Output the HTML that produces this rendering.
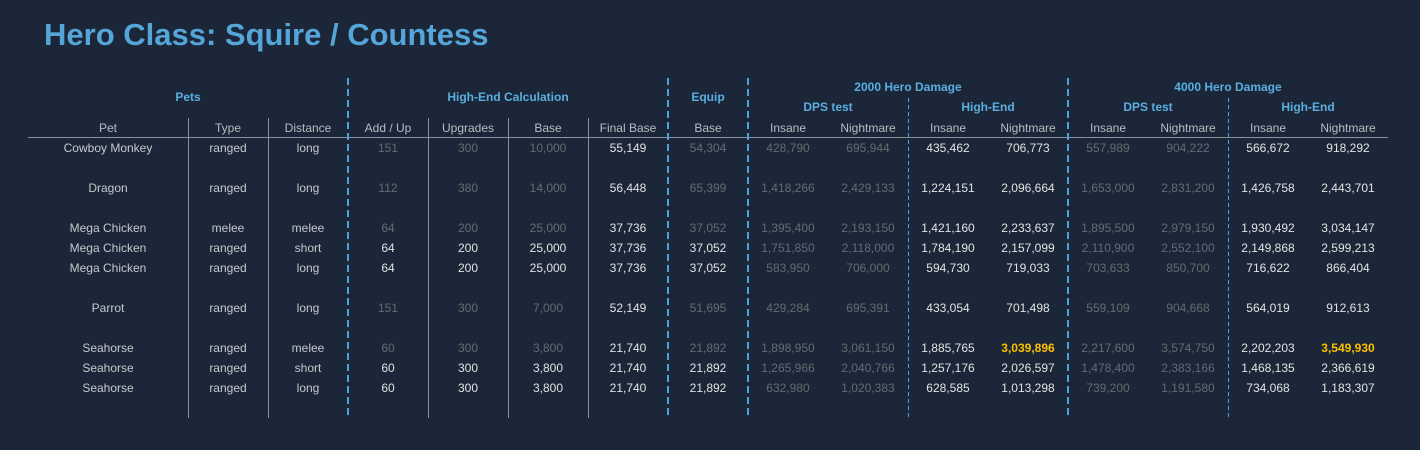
<!DOCTYPE html>
<html><head><meta charset="utf-8"><style>
*{margin:0;padding:0;box-sizing:border-box}
body{width:1420px;height:450px;background:#1b2738;position:relative;overflow:hidden;font-family:"Liberation Sans",sans-serif;font-size:12px;color:#c6c8cc}
.t{position:absolute;left:44px;top:17px;font-size:31px;font-weight:bold;color:#55a5d8;white-space:nowrap}
.r{position:absolute;left:28px;display:flex;height:20px;line-height:21px;white-space:nowrap}
.r div{text-align:center;flex:none;width:80px}
.r div:first-child{width:160px}
.h{color:#5aaee0;font-weight:bold;position:absolute;text-align:center;white-space:nowrap;height:20px;line-height:21px}
.ch{color:#b8bcc2}
.d{color:#666a70}
.b{color:#e2e2e2}
.g{color:#ffc000;font-weight:bold}
.vs{position:absolute;width:1px;background:#8a929c;top:118px;height:300px}
.vd{position:absolute;width:2px;top:78px;height:340px;background:repeating-linear-gradient(#4ba3dc 0 7px,transparent 7px 11px)}
.vt{position:absolute;width:1px;top:98px;height:320px;background:repeating-linear-gradient(#4ba3dc 0 4px,transparent 4px 7px)}
</style></head><body>
<div class="t">Hero Class: Squire / Countess</div>

<div class="h" style="left:28px;width:320px;top:87px">Pets</div>
<div class="h" style="left:348px;width:320px;top:87px">High-End Calculation</div>
<div class="h" style="left:668px;width:80px;top:87px">Equip</div>
<div class="h" style="left:748px;width:320px;top:77px">2000 Hero Damage</div>
<div class="h" style="left:1068px;width:320px;top:77px">4000 Hero Damage</div>
<div class="h" style="left:748px;width:160px;top:97px">DPS test</div>
<div class="h" style="left:908px;width:160px;top:97px">High-End</div>
<div class="h" style="left:1068px;width:160px;top:97px">DPS test</div>
<div class="h" style="left:1228px;width:160px;top:97px">High-End</div>

<div class="r ch" style="top:118px"><div>Pet</div><div>Type</div><div>Distance</div><div>Add / Up</div><div>Upgrades</div><div>Base</div><div>Final Base</div><div>Base</div><div>Insane</div><div>Nightmare</div><div>Insane</div><div>Nightmare</div><div>Insane</div><div>Nightmare</div><div>Insane</div><div>Nightmare</div></div>
<div style="position:absolute;left:28px;top:137px;width:1360px;height:1px;background:#8a929c"></div>

<div class="vs" style="left:188px"></div><div class="vs" style="left:268px"></div>
<div class="vs" style="left:428px"></div><div class="vs" style="left:508px"></div><div class="vs" style="left:588px"></div>
<div class="vd" style="left:347px"></div><div class="vd" style="left:667px"></div><div class="vd" style="left:747px"></div><div class="vd" style="left:1067px"></div>
<div class="vt" style="left:908px"></div><div class="vt" style="left:1228px"></div>

<div class="r" style="top:138px"><div>Cowboy Monkey</div><div>ranged</div><div>long</div><div class="d">151</div><div class="d">300</div><div class="d">10,000</div><div class="b">55,149</div><div class="d">54,304</div><div class="d">428,790</div><div class="d">695,944</div><div class="b">435,462</div><div class="b">706,773</div><div class="d">557,989</div><div class="d">904,222</div><div class="b">566,672</div><div class="b">918,292</div></div>
<div class="r" style="top:178px"><div>Dragon</div><div>ranged</div><div>long</div><div class="d">112</div><div class="d">380</div><div class="d">14,000</div><div class="b">56,448</div><div class="d">65,399</div><div class="d">1,418,266</div><div class="d">2,429,133</div><div class="b">1,224,151</div><div class="b">2,096,664</div><div class="d">1,653,000</div><div class="d">2,831,200</div><div class="b">1,426,758</div><div class="b">2,443,701</div></div>
<div class="r" style="top:218px"><div>Mega Chicken</div><div>melee</div><div>melee</div><div class="d">64</div><div class="d">200</div><div class="d">25,000</div><div class="b">37,736</div><div class="d">37,052</div><div class="d">1,395,400</div><div class="d">2,193,150</div><div class="b">1,421,160</div><div class="b">2,233,637</div><div class="d">1,895,500</div><div class="d">2,979,150</div><div class="b">1,930,492</div><div class="b">3,034,147</div></div>
<div class="r" style="top:238px"><div>Mega Chicken</div><div>ranged</div><div>short</div><div class="b">64</div><div class="b">200</div><div class="b">25,000</div><div class="b">37,736</div><div class="b">37,052</div><div class="d">1,751,850</div><div class="d">2,118,000</div><div class="b">1,784,190</div><div class="b">2,157,099</div><div class="d">2,110,900</div><div class="d">2,552,100</div><div class="b">2,149,868</div><div class="b">2,599,213</div></div>
<div class="r" style="top:258px"><div>Mega Chicken</div><div>ranged</div><div>long</div><div class="b">64</div><div class="b">200</div><div class="b">25,000</div><div class="b">37,736</div><div class="b">37,052</div><div class="d">583,950</div><div class="d">706,000</div><div class="b">594,730</div><div class="b">719,033</div><div class="d">703,633</div><div class="d">850,700</div><div class="b">716,622</div><div class="b">866,404</div></div>
<div class="r" style="top:298px"><div>Parrot</div><div>ranged</div><div>long</div><div class="d">151</div><div class="d">300</div><div class="d">7,000</div><div class="b">52,149</div><div class="d">51,695</div><div class="d">429,284</div><div class="d">695,391</div><div class="b">433,054</div><div class="b">701,498</div><div class="d">559,109</div><div class="d">904,668</div><div class="b">564,019</div><div class="b">912,613</div></div>
<div class="r" style="top:338px"><div>Seahorse</div><div>ranged</div><div>melee</div><div class="d">60</div><div class="d">300</div><div class="d">3,800</div><div class="b">21,740</div><div class="d">21,892</div><div class="d">1,898,950</div><div class="d">3,061,150</div><div class="b">1,885,765</div><div class="g">3,039,896</div><div class="d">2,217,600</div><div class="d">3,574,750</div><div class="b">2,202,203</div><div class="g">3,549,930</div></div>
<div class="r" style="top:358px"><div>Seahorse</div><div>ranged</div><div>short</div><div class="b">60</div><div class="b">300</div><div class="b">3,800</div><div class="b">21,740</div><div class="b">21,892</div><div class="d">1,265,966</div><div class="d">2,040,766</div><div class="b">1,257,176</div><div class="b">2,026,597</div><div class="d">1,478,400</div><div class="d">2,383,166</div><div class="b">1,468,135</div><div class="b">2,366,619</div></div>
<div class="r" style="top:378px"><div>Seahorse</div><div>ranged</div><div>long</div><div class="b">60</div><div class="b">300</div><div class="b">3,800</div><div class="b">21,740</div><div class="b">21,892</div><div class="d">632,980</div><div class="d">1,020,383</div><div class="b">628,585</div><div class="b">1,013,298</div><div class="d">739,200</div><div class="d">1,191,580</div><div class="b">734,068</div><div class="b">1,183,307</div></div>
</body></html>
